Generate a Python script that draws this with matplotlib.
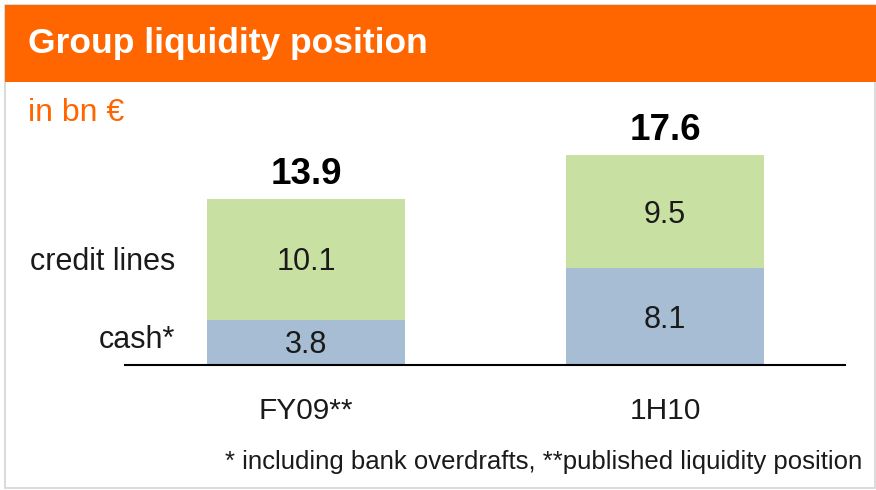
import matplotlib.pyplot as plt
from matplotlib.patches import Rectangle
import numpy as np

plt.rcParams['font.family'] = ['Liberation Sans', 'DejaVu Sans']

periods = ["FY09**", "1H10"]
cash = [3.8, 8.1]
credit_lines = [10.1, 9.5]
totals = [13.9, 17.6]
segment_names = ["cash*", "credit lines"]

ORANGE = "#FF6600"
GREEN = "#C9E0A3"
BLUE = "#A6BDD3"
TEXT = "#1A1A1A"

W, H = 876, 490
fig = plt.figure(figsize=(W / 100, H / 100), dpi=100)

# frame + orange header
fig.patches.append(Rectangle((5 / W, 2 / H), 870 / W, 483 / H, transform=fig.transFigure,
                             facecolor="white", edgecolor="#D4D4D4", linewidth=1.2, zorder=0))
fig.patches.append(Rectangle((5 / W, (H - 82) / H), 871 / W, 77 / H, transform=fig.transFigure,
                             facecolor=ORANGE, edgecolor="none", zorder=1))
fig.text(28 / W, (H - 43) / H, "Group liquidity position", color="white", fontsize=25.5,
         fontweight="bold", va="center", ha="left")
fig.text(28 / W, (H - 113) / H, "in bn \u20ac", color=ORANGE, fontsize=23, va="center", ha="left")
fig.text(862 / W, (H - 462) / H, "* including bank overdrafts, **published liquidity position",
         color=TEXT, fontsize=18.5, va="center", ha="right")

ax = fig.add_axes([125 / W, (H - 365) / H, 720 / W, 270 / H])
ax.set_zorder(5)
ax.patch.set_alpha(0)
x = np.arange(len(periods))
ax.bar(x, cash, width=0.55, color=BLUE, zorder=2)
ax.bar(x, credit_lines, width=0.55, bottom=cash, color=GREEN, zorder=2)


def label(xv, yv, s, ha="center", **kw):
    # nudge a little below the geometric centre, like the original slide
    ax.annotate(s, (xv, yv), xytext=(0, -2.2), textcoords="offset points",
                ha=ha, va="center", color=TEXT, **kw)


for i in range(len(periods)):
    label(x[i], cash[i] / 2, f"{cash[i]:.1f}", fontsize=22)
    label(x[i], cash[i] + credit_lines[i] / 2, f"{credit_lines[i]:.1f}", fontsize=22)
    ax.text(x[i], totals[i] + 0.6, f"{totals[i]:.1f}", ha="center", va="bottom", fontsize=26.5,
            fontweight="bold", color="black")

# segment names to the left of the first bar
label(-0.365, cash[0] / 2 + 0.45, segment_names[0], ha="right", fontsize=22)
label(-0.365, cash[0] + credit_lines[0] / 2, segment_names[1], ha="right", fontsize=22)

ax.set_xlim(-0.504, 1.501)
ax.set_ylim(0, 22.6)
ax.set_xticks(x, periods)
ax.tick_params(axis="x", length=0, pad=23, labelsize=21.5, labelcolor=TEXT)
ax.set_yticks([])
for s in ["top", "left", "right"]:
    ax.spines[s].set_visible(False)
ax.spines["bottom"].set_linewidth(1.5)
ax.spines["bottom"].set_zorder(3)

fig.savefig("out.png", dpi=100)
